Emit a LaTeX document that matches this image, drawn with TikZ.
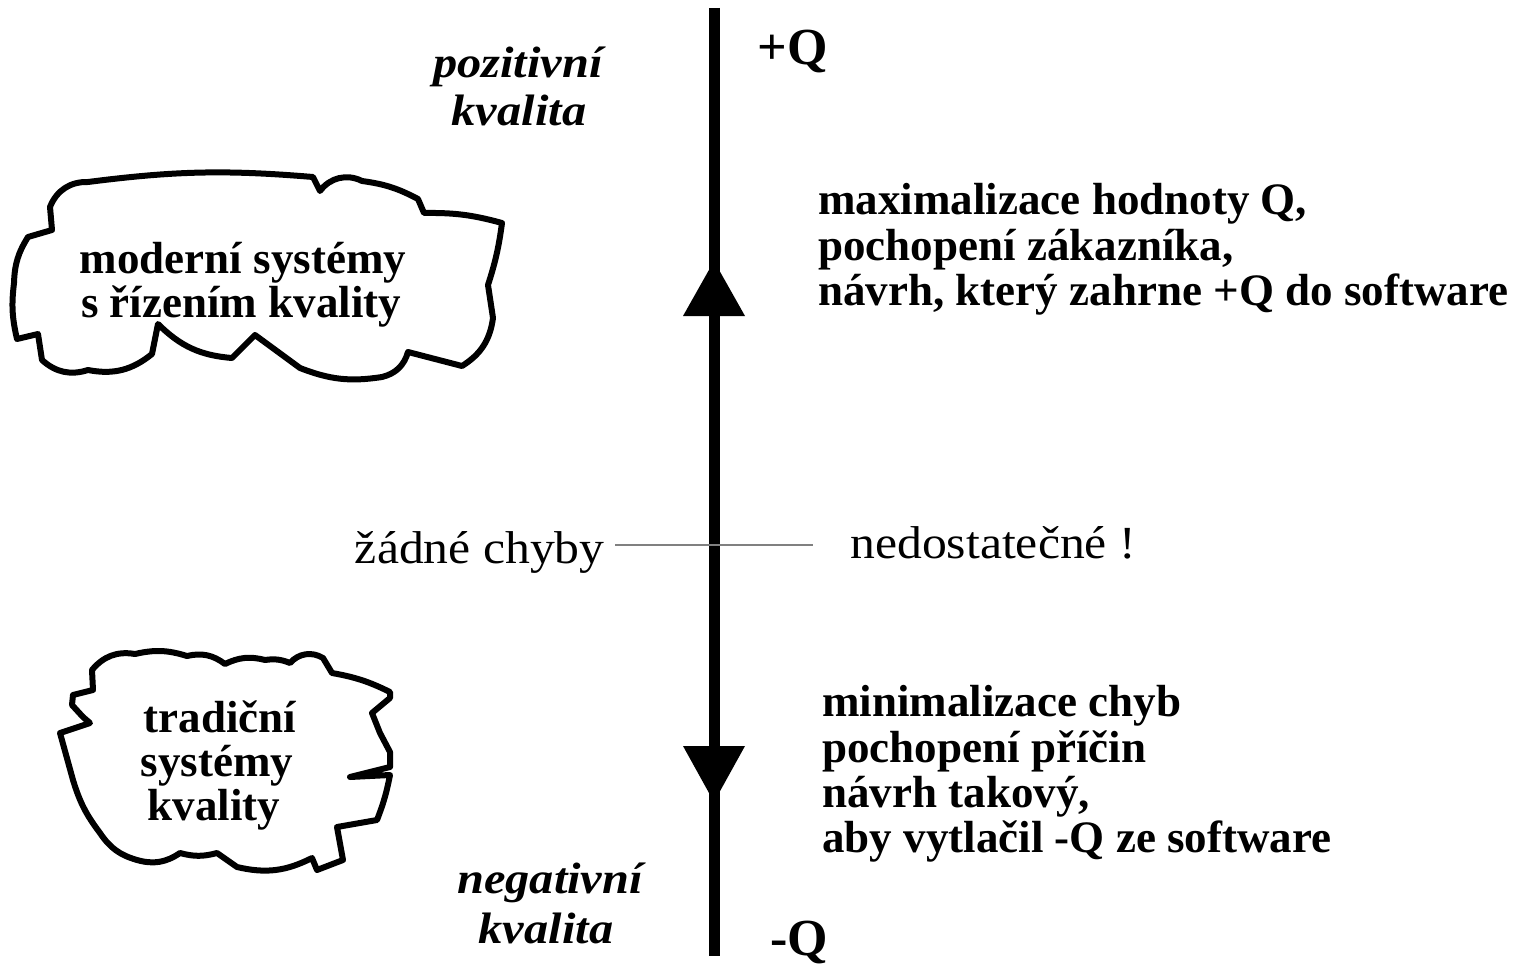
\documentclass[tikz,border=0pt]{standalone}
\usepackage{fontspec}
\setmainfont{Liberation Serif}
\newfontfamily\widerm{Liberation Serif}[FakeStretch=1.08]
\newfontfamily\wideit{Liberation Serif}[FakeStretch=1.1]
\begin{document}
\begin{tikzpicture}[x=0.5pt,y=-0.5pt,
  axis/.style={line width=5.5pt},
  tip/.style={fill=black},
  cloud/.style={draw, line width=3pt, line join=round, fill=white},
  txt/.style={inner sep=0pt, font=\bfseries\fontsize{22.5pt}{22.5pt}\selectfont},
  qlbl/.style={inner sep=0pt, font=\bfseries\fontsize{26pt}{26pt}\selectfont},
  pole/.style={inner sep=0pt, font=\wideit\bfseries\itshape\fontsize{22pt}{22pt}\selectfont},
  plain/.style={inner sep=0pt, font=\widerm\fontsize{23pt}{23pt}\selectfont},
  guide/.style={draw=black!50, line width=0.8pt}]
\useasboundingbox (0,0) rectangle (1520,968);

% quality axis
\coordinate (top) at (714,8);
\coordinate (bot) at (714,956);
\coordinate (mid) at (714,545);
\draw[axis] (top) -- (bot);
\coordinate (uptip) at (714,261);
\coordinate (dntip) at (714,802);
\fill[tip] (uptip) -- ++(-31,55) -- ++(62,0) -- cycle;
\fill[tip] (dntip) -- ++(-31,-56) -- ++(62,0) -- cycle;

\node[qlbl, anchor=base west] (plusq) at (757,65) {+Q};
\node[qlbl, anchor=base west] (minusq) at (770,955) {-Q};

\node[pole, anchor=base] (pos1) at (518,78) {pozitivní};
\node[pole, anchor=base] (pos2) at (519,126) {kvalita};
\node[pole, anchor=base] (neg1) at (550,893) {negativní};
\node[pole, anchor=base] (neg2) at (546,943) {kvalita};

% positive-quality goals
\node[txt, anchor=base west] (p1) at (818,215) {maximalizace hodnoty Q,};
\node[txt, anchor=base west] (p2) at (818,261) {pochopení zákazníka,};
\node[txt, anchor=base west] (p3) at (818,306) {návrh, který zahrne +Q do software};

% negative-quality goals
\node[txt, anchor=base west] (n1) at (822,716) {minimalizace chyb};
\node[txt, anchor=base west] (n2) at (822,762) {pochopení příčin};
\node[txt, anchor=base west] (n3) at (822,807) {návrh takový,};
\node[txt, anchor=base west] (n4) at (822,852) {aby vytlačil -Q ze software};

% zero line
\node[plain, anchor=base east] (zadne) at (605,563) {žádné chyby};
\node[plain, anchor=base west] (nedost) at (850,558) {nedostatečné !};
\draw[guide, shorten <=5pt, shorten >=18.5pt] (zadne.east |- mid) -- (nedost.west |- mid);

% modern systems cloud
\path[cloud] (50,207) to[bend left=35] (88,182) to[bend left=6] (313,177) -- (320,191)
  to[bend left=40] (362,181) to[bend left=10] (418,199) -- (424,213)
  to[bend left=8] (502,223) to[bend left=5] (488,285) -- (493,318)
  to[bend left=25] (462,366) -- (408,352) to[bend left=30] (382,377)
  to[bend left=15] (300,368) -- (255,335) -- (232,358)
  to[bend left=20] (158,324) -- (152,354) to[bend left=25] (88,370)
  to[bend left=30] (42,360) -- (38,334) -- (17,339) to[bend left=10] (14,283)
  to[bend left=15] (28,237) -- (52,230) -- cycle;
\node[txt, anchor=base] (m1) at (243,273) {moderní systémy};
\node[txt, anchor=base] (m2) at (241,317) {s řízením kvality};

% traditional systems cloud
\path[cloud] (92,670) to[bend left=30] (135,654) to[bend left=15] (187,656)
  to[bend left=25] (225,664) to[bend left=20] (265,660) to[bend left=15] (290,663)
  to[bend left=40] (323,658) -- (332,673) to[bend left=8] (390,692) -- (390,698)
  -- (372,713) -- (380,733) -- (390,752) -- (390,767) -- (350,777) -- (390,775)
  to[bend left=5] (377,820) -- (337,827) -- (343,860) -- (317,870) -- (312,858)
  to[bend left=20] (237,867) -- (217,853) to[bend left=15] (180,853)
  to[bend left=25] (137,860) to[bend left=20] (100,833) to[bend left=10] (73,780)
  -- (60,733) -- (90,723) -- (83,717) -- (72,705) -- (73,695) -- (93,690) -- cycle;
\node[txt, anchor=base] (t1) at (220,732) {tradiční};
\node[txt, anchor=base] (t2) at (217,776) {systémy};
\node[txt, anchor=base] (t3) at (214,820) {kvality};
\end{tikzpicture}
\end{document}
